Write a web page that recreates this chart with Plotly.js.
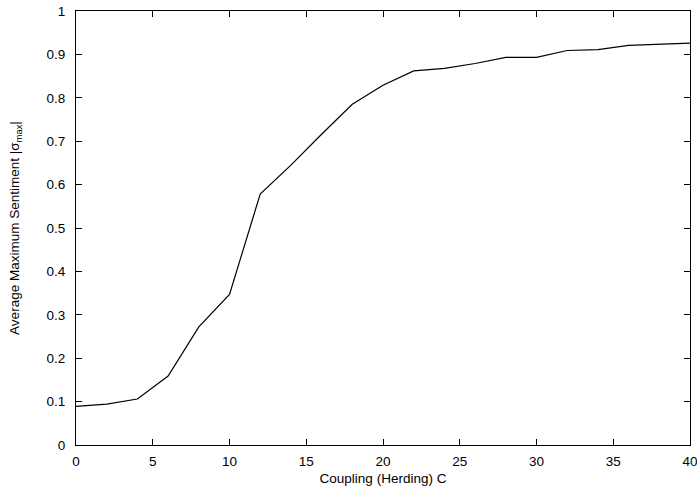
<!DOCTYPE html>
<html>
<head>
<meta charset="utf-8">
<script src="https://cdn.plot.ly/plotly-3.0.1.min.js"></script>
<style>html,body{margin:0;padding:0;background:#fff;}#chart{width:697px;height:489px;}</style>
</head>
<body>
<div id="chart"></div>
<script>
const couplingC = [0, 2, 4, 6, 8, 10, 12, 14, 16, 18, 20, 22, 24, 26, 28, 30, 32, 34, 36, 38, 40];
const avgMaxSentiment = [0.089, 0.094, 0.106, 0.159, 0.272, 0.347, 0.578, 0.645, 0.716, 0.785, 0.829, 0.862, 0.868, 0.879, 0.893, 0.893, 0.909, 0.911, 0.921, 0.923, 0.926];
const xTickVals = [0, 5, 10, 15, 20, 25, 30, 35, 40];
const yTickVals = [0, 0.1, 0.2, 0.3, 0.4, 0.5, 0.6, 0.7, 0.8, 0.9, 1];
const yTickText = ['0', '0.1', '0.2', '0.3', '0.4', '0.5', '0.6', '0.7', '0.8', '0.9', '1'];

const font = {family: 'Liberation Sans, Arial, sans-serif', size: 13.5, color: '#000'};
const yTitleFont = {family: 'Liberation Sans, Arial, sans-serif', size: 13.5, color: '#000'};

Plotly.newPlot('chart', [{
  x: couplingC,
  y: avgMaxSentiment,
  type: 'scatter',
  mode: 'lines',
  line: {color: '#000', width: 1.2},
  hoverinfo: 'none'
}], {
  width: 697, height: 489,
  margin: {l: 76, r: 7, t: 11, b: 44},
  paper_bgcolor: '#fff', plot_bgcolor: '#fff',
  font: font,
  showlegend: false,
  xaxis: {
    range: [0, 40], tickvals: xTickVals, ticks: 'inside', ticklen: 6, tickcolor: '#000',
    showline: true, linecolor: '#000', linewidth: 1, mirror: 'allticks',
    showgrid: false, zeroline: false, tickfont: font, automargin: false,
    ticklabeloverflow: 'allow', ticklabelstandoff: 4,
    title: {text: 'Coupling (Herding) C', font: font, standoff: 5}
  },
  yaxis: {
    range: [0, 1], tickvals: yTickVals, ticktext: yTickText, ticks: 'inside', ticklen: 6, tickcolor: '#000',
    showline: true, linecolor: '#000', linewidth: 1, mirror: 'allticks',
    showgrid: false, zeroline: false, tickfont: font, automargin: false,
    ticklabelstandoff: 7,
    title: {text: 'Average Maximum Sentiment |σ<sub>max</sub>|', font: yTitleFont, standoff: 23}
  }
}, {staticPlot: true});
</script>
</body>
</html>
